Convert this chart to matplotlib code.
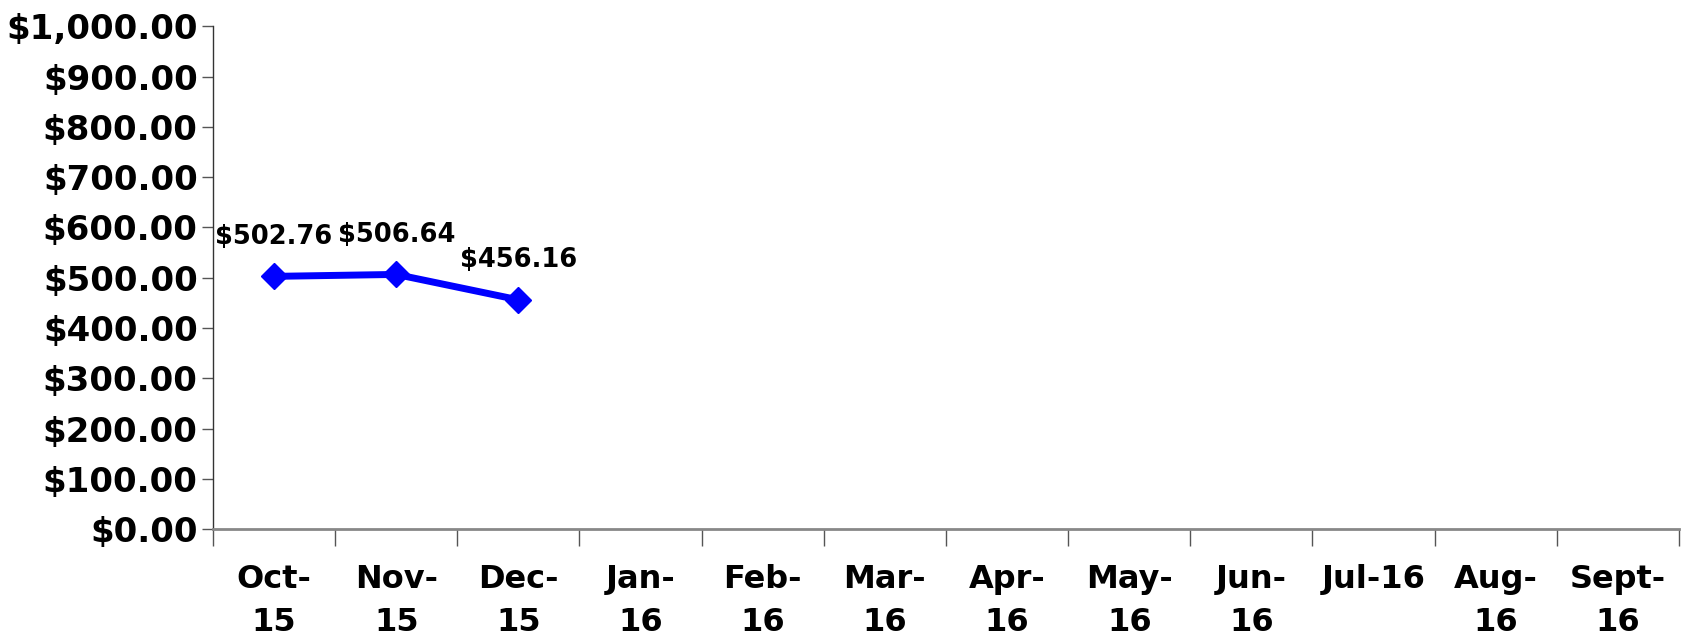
import numpy as np
import matplotlib.pyplot as plt

months = ["Oct-\n15", "Nov-\n15", "Dec-\n15", "Jan-\n16", "Feb-\n16", "Mar-\n16",
          "Apr-\n16", "May-\n16", "Jun-\n16", "Jul-16", "Aug-\n16", "Sept-\n16"]
values = [502.76, 506.64, 456.16]
yticks = np.arange(0, 1001, 100)

plt.rcParams['font.family'] = ['DejaVu Sans']
plt.rcParams['font.weight'] = 'bold'

fig = plt.figure(figsize=(16.9, 6.4), dpi=100)
ax = fig.add_axes([0.126, 0.173, 0.8675, 0.786])

x = np.arange(len(values))
ax.plot(x, values, color='#0000FF', lw=5, marker='D', ms=13, zorder=3)
for xi, v in zip(x, values):
    ax.annotate("${:,.2f}".format(v), (xi, v), xytext=(0, 19), textcoords='offset points',
                ha='center', va='bottom', fontsize=18.5, fontweight='bold')

ax.set_xlim(-0.5, len(months) - 0.5)
ax.set_ylim(0, 1000)
ax.set_yticks(yticks)
ax.set_yticklabels(["${:,.2f}".format(t) for t in yticks], fontsize=24.5, fontweight='bold')

# category labels at centers, ticks on boundaries
ax.set_xticks(np.arange(len(months)))
ax.set_xticklabels(months, fontsize=23, fontweight='bold', linespacing=1.5)
ax.tick_params(axis='x', which='major', length=0, pad=25)
ax.set_xticks(np.arange(len(months) + 1) - 0.5, minor=True)
ax.tick_params(axis='x', which='minor', length=12, color='#555555', width=1)
ax.tick_params(axis='y', length=8, color='#555555', width=1, pad=3)

for s in ['top', 'right']:
    ax.spines[s].set_visible(False)
ax.spines['left'].set_color('#333333')
ax.spines['left'].set_linewidth(1)
ax.spines['bottom'].set_color('#888888')
ax.spines['bottom'].set_linewidth(2)

fig.savefig("out.png", dpi=100)
